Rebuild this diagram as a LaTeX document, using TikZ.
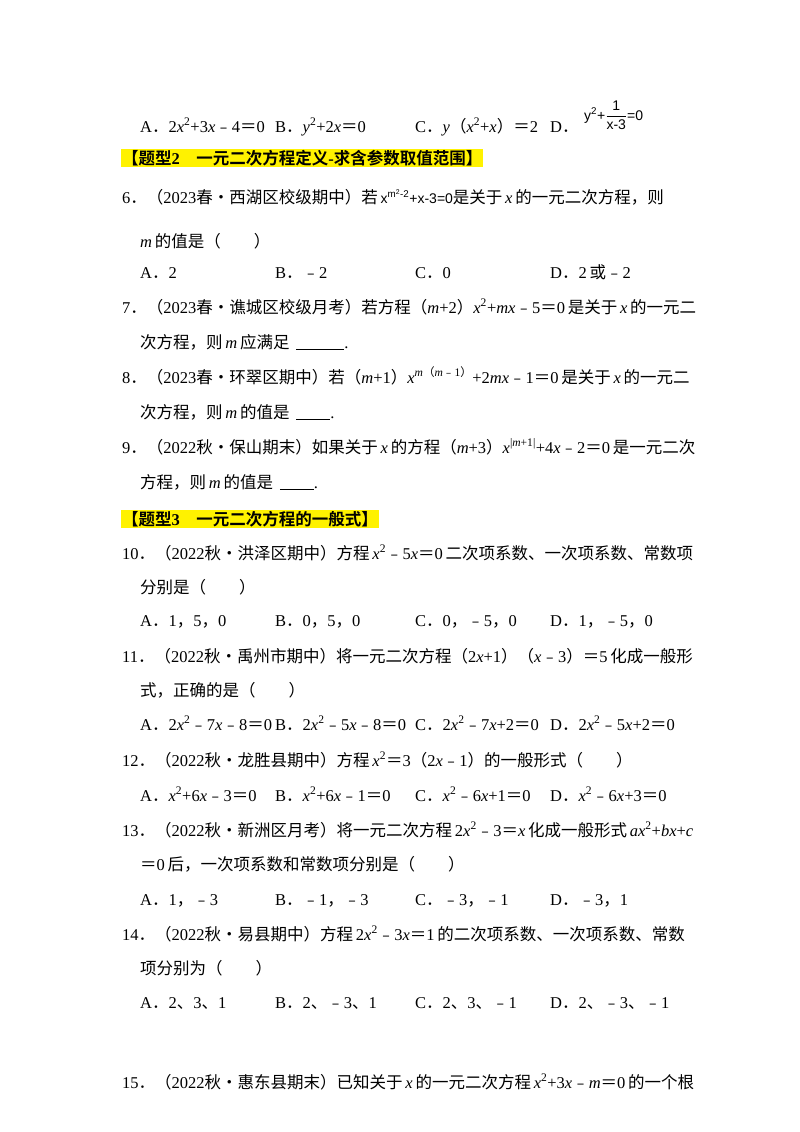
\documentclass[tikz,border=0pt]{standalone}
\usepackage{fontspec}
\setmainfont{Liberation Serif}
\newfontfamily\cjk{Noto Sans CJK SC}[BoldFont={Noto Sans CJK SC Bold}]
\newfontfamily\sfx{Liberation Sans}
\newcommand\zh[1]{{\cjk #1}}
\newcommand\ii[1]{\textit{#1}}
\newcommand\mi{\zh{﹣}}
\newcommand\eq{\zh{＝}}
\newcommand\lp{\zh{（}}
\newcommand\rp{\zh{）}}
\newcommand\sq{\textsuperscript{2}}
\newcommand\blank[1]{\rule[-2pt]{#1}{0.8pt}}
\newcommand\fs{\fontsize{16.5}{19}\selectfont}
\tikzset{ln/.style={anchor=base west,inner sep=0pt},
 hl/.style={anchor=base west,inner sep=1pt,fill=yellow,font=\fs\bfseries}}
\newcommand\T[3]{\node[ln] at (#1,#2) {#3};}
\begin{document}
\begin{tikzpicture}[x=1pt,y=-1pt,font=\fs]
\useasboundingbox (0,0) rectangle (800,1132);
\T{140}{132}{A\zh{．}2\ii{x}\sq+3\ii{x}\mi4\eq0}
\T{275}{132}{B\zh{．}\ii{y}\sq+2\ii{x}\eq0}
\T{415}{132}{C\zh{．}\ii{y}\lp\ii{x}\sq+\ii{x}\rp\eq2}
\T{550}{132}{D\zh{．}}
\node[ln] at (584,120) {\sfx\fontsize{14}{16}\selectfont y\textsuperscript{2}+$\displaystyle\frac{\hbox{\sfx 1}}{\hbox{\sfx x-3}}$=0};
\node[hl] at (121,164) {\zh{【题型}2\zh{　一元二次方程定义}-\zh{求含参数取值范围】}};
\T{122}{203}{6\zh{．}\lp2023\zh{春•西湖区校级期中）若}\,{\sfx\fontsize{14}{16}\selectfont x\textsuperscript{m\textsuperscript{2}-2}+x-3=0}\zh{是关于}\,\ii{x}\,\zh{的一元二次方程，则}}
\T{140}{247}{\ii{m}\,\zh{的值是（　　）}}
\T{140}{278}{A\zh{．}2}
\T{275}{278}{B\zh{．}\mi2}
\T{415}{278}{C\zh{．}0}
\T{550}{278}{D\zh{．}2\,\zh{或}\mi2}
\T{122}{313}{7\zh{．}\lp2023\zh{春•谯城区校级月考）若方程（}\ii{m}+2\rp\ii{x}\sq+\ii{mx}\mi5\eq0\,\zh{是关于}\,\ii{x}\,\zh{的一元二}}
\T{140}{348}{\zh{次方程，则}\,\ii{m}\,\zh{应满足}\, \blank{48pt}.}
\T{122}{383}{8\zh{．}\lp2023\zh{春•环翠区期中）若（}\ii{m}+1\rp\ii{x}\textsuperscript{\ii{m}\lp\ii{m}\mi1\rp}+2\ii{mx}\mi1\eq0\,\zh{是关于}\,\ii{x}\,\zh{的一元二}}
\T{140}{418}{\zh{次方程，则}\,\ii{m}\,\zh{的值是}\, \blank{34pt}.}
\T{122}{453}{9\zh{．}\lp2022\zh{秋•保山期末）如果关于}\,\ii{x}\,\zh{的方程（}\ii{m}+3\rp\ii{x}\textsuperscript{|\ii{m}+1|}+4\ii{x}\mi2\eq0\,\zh{是一元二次}}
\T{140}{488}{\zh{方程，则}\,\ii{m}\,\zh{的值是}\, \blank{34pt}.}
\node[hl] at (121,525) {\zh{【题型}3\zh{　一元二次方程的一般式】}};
\T{122}{559}{10\zh{．}\lp2022\zh{秋•洪泽区期中）方程}\,\ii{x}\sq\mi5\ii{x}\eq0\,\zh{二次项系数、一次项系数、常数项}}
\T{140}{593}{\zh{分别是（　　）}}
\T{140}{626}{A\zh{．}1\zh{，}5\zh{，}0}
\T{275}{626}{B\zh{．}0\zh{，}5\zh{，}0}
\T{415}{626}{C\zh{．}0\zh{，}\mi5\zh{，}0}
\T{550}{626}{D\zh{．}1\zh{，}\mi5\zh{，}0}
\T{122}{662}{11\zh{．}\lp2022\zh{秋•禹州市期中）将一元二次方程（}2\ii{x}+1\rp\lp\ii{x}\mi3\rp\eq5\,\zh{化成一般形}}
\T{140}{696}{\zh{式，正确的是（　　）}}
\T{140}{730}{A\zh{．}2\ii{x}\sq\mi7\ii{x}\mi8\eq0}
\T{275}{730}{B\zh{．}2\ii{x}\sq\mi5\ii{x}\mi8\eq0}
\T{415}{730}{C\zh{．}2\ii{x}\sq\mi7\ii{x}+2\eq0}
\T{550}{730}{D\zh{．}2\ii{x}\sq\mi5\ii{x}+2\eq0}
\T{122}{766}{12\zh{．}\lp2022\zh{秋•龙胜县期中）方程}\,\ii{x}\sq\eq3\lp2\ii{x}\mi1\rp\zh{的一般形式（　　）}}
\T{140}{801}{A\zh{．}\ii{x}\sq+6\ii{x}\mi3\eq0}
\T{275}{801}{B\zh{．}\ii{x}\sq+6\ii{x}\mi1\eq0}
\T{415}{801}{C\zh{．}\ii{x}\sq\mi6\ii{x}+1\eq0}
\T{550}{801}{D\zh{．}\ii{x}\sq\mi6\ii{x}+3\eq0}
\T{122}{836}{13\zh{．}\lp2022\zh{秋•新洲区月考）将一元二次方程}\,2\ii{x}\sq\mi3\eq\ii{x}\,\zh{化成一般形式}\,\ii{ax}\sq+\ii{bx}+\ii{c}}
\T{140}{870}{\eq0\,\zh{后，一次项系数和常数项分别是（　　）}}
\T{140}{905}{A\zh{．}1\zh{，}\mi3}
\T{275}{905}{B\zh{．}\mi1\zh{，}\mi3}
\T{415}{905}{C\zh{．}\mi3\zh{，}\mi1}
\T{550}{905}{D\zh{．}\mi3\zh{，}1}
\T{122}{940}{14\zh{．}\lp2022\zh{秋•易县期中）方程}\,2\ii{x}\sq\mi3\ii{x}\eq1\,\zh{的二次项系数、一次项系数、常数}}
\T{140}{974}{\zh{项分别为（　　）}}
\T{140}{1008}{A\zh{．}2\zh{、}3\zh{、}1}
\T{275}{1008}{B\zh{．}2\zh{、}\mi3\zh{、}1}
\T{415}{1008}{C\zh{．}2\zh{、}3\zh{、}\mi1}
\T{550}{1008}{D\zh{．}2\zh{、}\mi3\zh{、}\mi1}
\T{122}{1088}{15\zh{．}\lp2022\zh{秋•惠东县期末）已知关于}\,\ii{x}\,\zh{的一元二次方程}\,\ii{x}\sq+3\ii{x}\mi\ii{m}\eq0\,\zh{的一个根}}
\end{tikzpicture}
\end{document}
